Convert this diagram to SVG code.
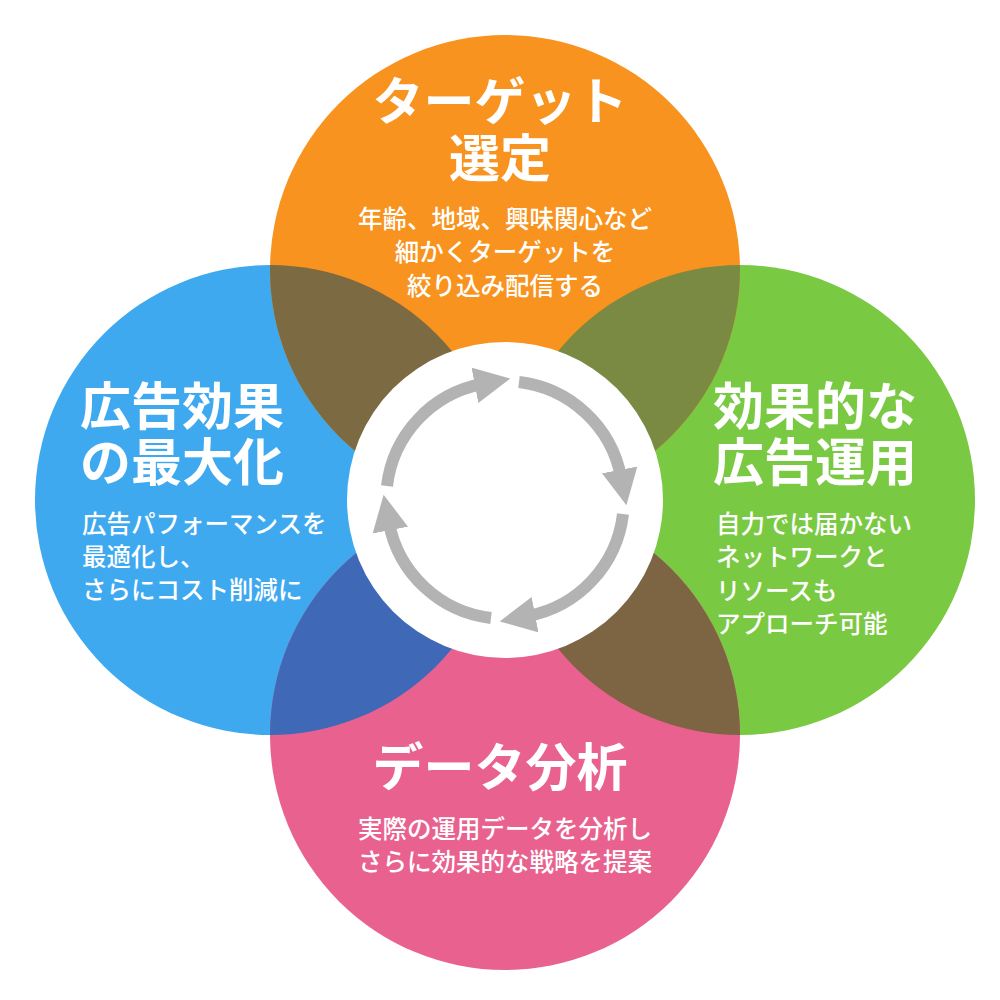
<svg xmlns="http://www.w3.org/2000/svg" width="1000" height="1000" viewBox="0 0 1000 1000">
<style>
text{font-family:"Noto Sans CJK JP","Noto Sans",sans-serif;fill:#fff;font-weight:bold}
.t{font-size:51px}
.b{font-size:24.5px;font-weight:500}
.c{text-anchor:middle}
.arr{fill:none;stroke:#b3b3b3;stroke-width:12;marker-end:url(#ah)}
</style>
<defs>
<marker id="ah" viewBox="0 0 10 10" refX="2" refY="5" markerWidth="3" markerHeight="3" orient="auto" markerUnits="strokeWidth"><path d="M0,0L10,5L0,10z" fill="#b3b3b3"/></marker>
<clipPath id="cT"><circle cx="505" cy="270" r="235"/></clipPath>
<clipPath id="cB"><circle cx="505" cy="735" r="235"/></clipPath>
</defs>
<g id="left"><circle cx="270" cy="500" r="235" fill="#3fa9f0"/></g>
<g id="right"><circle cx="740" cy="500" r="235" fill="#7ac943"/></g>
<g id="top"><circle cx="505" cy="270" r="235" fill="#f7931e"/></g>
<g id="bottom"><circle cx="505" cy="735" r="235" fill="#e9628f"/></g>
<g id="overlaps">
<circle cx="270" cy="500" r="235" fill="#7b6a42" clip-path="url(#cT)"/>
<circle cx="740" cy="500" r="235" fill="#7a8a42" clip-path="url(#cT)"/>
<circle cx="740" cy="500" r="235" fill="#7d6442" clip-path="url(#cB)"/>
<circle cx="270" cy="500" r="235" fill="#3f68b6" clip-path="url(#cB)"/>
</g>
<g id="center"><circle cx="505" cy="500" r="158" fill="#fff"/></g>
<g id="connectors">
<path class="arr" d="M387,486 A118,118 0 0 1 482,384"/>
<path class="arr" d="M519,382 A118,118 0 0 1 621,477"/>
<path class="arr" d="M623,514 A118,118 0 0 1 528,616"/>
<path class="arr" d="M491,618 A118,118 0 0 1 389,523"/>
</g>
<g id="top-text">
<text class="t c" x="500" y="120">ターゲット</text>
<text class="t c" x="500" y="177">選定</text>
<text class="b c" x="505" y="228">年齢、地域、興味関心など</text>
<text class="b c" x="505" y="261">細かくターゲットを</text>
<text class="b c" x="505" y="295">絞り込み配信する</text>
</g>
<g id="left-text">
<text class="t c" x="182" y="425">広告効果</text>
<text class="t c" x="182" y="481">の最大化</text>
<text class="b" x="82" y="533">広告パフォーマンスを</text>
<text class="b" x="82" y="566">最適化し、</text>
<text class="b" x="82" y="599">さらにコスト削減に</text>
</g>
<g id="right-text">
<text class="t c" x="815" y="425">効果的な</text>
<text class="t c" x="815" y="481">広告運用</text>
<text class="b" x="716" y="533">自力では届かない</text>
<text class="b" x="716" y="566">ネットワークと</text>
<text class="b" x="716" y="600">リソースも</text>
<text class="b" x="716" y="633">アプローチ可能</text>
</g>
<g id="bottom-text">
<text class="t c" x="500" y="786">データ分析</text>
<text class="b c" x="505" y="838">実際の運用データを分析し</text>
<text class="b c" x="505" y="871">さらに効果的な戦略を提案</text>
</g>
</svg>
